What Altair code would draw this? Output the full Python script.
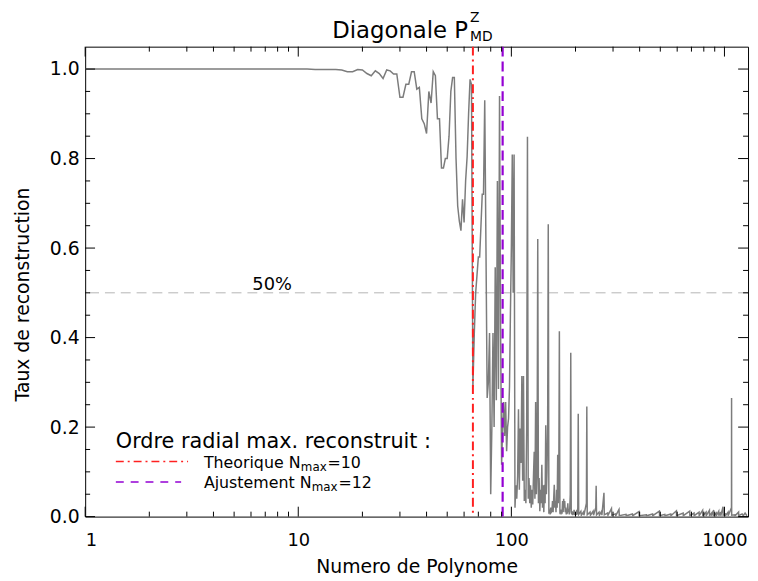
import altair as alt
import pandas as pd

# ---------------- data ----------------
poly_index = list(range(1, 206)) + [
    206, 207, 212, 213, 218, 219, 225, 226, 227, 234, 235, 242, 243, 249, 250, 251,
    258, 259, 265, 266, 272, 273, 283, 284, 295, 296, 308, 309, 320, 321, 345, 346,
    370, 371, 397, 398, 430, 431, 460, 461, 495, 496, 525, 526, 560, 561, 595, 596,
    640, 641, 687, 688, 720, 721, 760, 761, 790, 791, 820, 821, 850, 851, 870, 871,
    890, 891, 915, 916, 940, 941, 960, 961, 985, 986, 1010, 1011, 1040, 1041,
    1079, 1080, 1081, 1120, 1121, 1165, 1166, 1210, 1225, 1250, 1275]

taux = [
    # 1 - 16
    1.0, 1.0, 1.0, 1.0, 1.0, 1.0, 1.0, 1.0, 1.0, 1.0, 1.0, 0.999, 0.999, 0.999, 0.999, 0.998,
    # 17 - 30
    0.994, 0.994, 0.999, 0.998, 0.990, 0.985, 0.996, 0.990, 0.979, 0.998, 0.996, 0.989, 0.989, 0.937,
    # 31 - 45
    0.937, 0.966, 0.966, 0.994, 0.994, 0.955, 0.959, 0.889, 0.878, 0.856, 0.950, 0.924, 0.994, 0.985, 0.889,
    # 46 - 60
    0.889, 0.779, 0.779, 0.800, 0.800, 0.850, 0.950, 0.981, 0.981, 0.800, 0.694, 0.660, 0.639, 0.709, 0.657,
    # 61 - 75
    0.750, 0.804, 0.900, 0.977, 0.966, 0.290, 0.410, 0.500, 0.540, 0.580, 0.580, 0.650, 0.720, 0.720, 0.930,
    # 76 - 90
    0.600, 0.265, 0.300, 0.410, 0.050, 0.200, 0.410, 0.200, 0.557, 0.260, 0.750, 0.285, 0.940, 0.420, 0.116,
    # 91 - 105
    0.200, 0.256, 0.180, 0.256, 0.146, 0.200, 0.219, 0.290, 0.455, 0.600, 0.809, 0.500, 0.809, 0.020, 0.070,
    # 106 - 120
    0.040, 0.090, 0.240, 0.060, 0.197, 0.120, 0.314, 0.080, 0.314, 0.035, 0.060, 0.030, 0.200, 0.849, 0.040,
    # 121 - 135
    0.086, 0.030, 0.070, 0.020, 0.060, 0.027, 0.090, 0.145, 0.040, 0.256, 0.050, 0.100, 0.620, 0.030, 0.086,
    # 136 - 150
    0.012, 0.060, 0.030, 0.116, 0.020, 0.070, 0.010, 0.071, 0.030, 0.204, 0.050, 0.100, 0.200, 0.653, 0.010,
    # 151 - 165
    0.012, 0.005, 0.020, 0.010, 0.012, 0.035, 0.010, 0.040, 0.071, 0.020, 0.035, 0.010, 0.060, 0.020, 0.138,
    # 166 - 180
    0.030, 0.100, 0.414, 0.010, 0.012, 0.005, 0.012, 0.010, 0.035, 0.010, 0.040, 0.020, 0.035, 0.010, 0.020,
    # 181 - 195
    0.005, 0.012, 0.010, 0.030, 0.010, 0.015, 0.005, 0.020, 0.050, 0.366, 0.010, 0.005, 0.012, 0.003, 0.010,
    # 196 - 205
    0.005, 0.015, 0.004, 0.008, 0.003, 0.010, 0.004, 0.015, 0.005, 0.020,
    # sparse tail
    0.230, 0.005, 0.012, 0.003, 0.010, 0.003, 0.030, 0.246, 0.004, 0.010, 0.003, 0.012, 0.003, 0.020, 0.069, 0.004,
    0.010, 0.003, 0.012, 0.003, 0.053, 0.004, 0.008, 0.003, 0.018, 0.003, 0.006, 0.002, 0.016, 0.002, 0.005, 0.002,
    0.006, 0.002, 0.011, 0.002, 0.004, 0.002, 0.006, 0.002, 0.012, 0.002, 0.005, 0.002, 0.006, 0.002, 0.013, 0.002,
    0.008, 0.002, 0.012, 0.002, 0.008, 0.002, 0.010, 0.002, 0.014, 0.002, 0.010, 0.002, 0.014, 0.002, 0.008, 0.002,
    0.015, 0.002, 0.008, 0.002, 0.012, 0.002, 0.010, 0.002, 0.022, 0.003, 0.006, 0.002, 0.010, 0.002,
    0.020, 0.265, 0.003, 0.004, 0.002, 0.010, 0.002, 0.006, 0.002, 0.008, 0.002]

theorique_cut = [66]      # N_max = 10
ajustement_cut = [91]     # N_max = 12
seuil = [0.5]

x_major = [1, 10, 100, 1000]
x_minor = [2, 3, 4, 5, 6, 7, 8, 9, 20, 30, 40, 50, 60, 70, 80, 90,
           200, 300, 400, 500, 600, 700, 800, 900]
y_major = [0.0, 0.2, 0.4, 0.6, 0.8, 1.0]
y_minor = [0.05, 0.1, 0.15, 0.25, 0.3, 0.35, 0.45, 0.5, 0.55, 0.65, 0.7, 0.75,
           0.85, 0.9, 0.95]

# ---------------- chart ----------------
W, H = 670, 475
FONT = "DejaVu Sans"

df = pd.DataFrame({"n": poly_index, "taux": taux})
x_scale = alt.Scale(type="log", domain=[1, 1290], nice=False)
y_scale = alt.Scale(domain=[0, 1.05], nice=False, zero=False)

x_axis = alt.Axis(values=x_major, format="d", ticks=False, tickSize=0, grid=False,
                  domain=False, labelFontSize=18, labelFont=FONT, labelColor="black",
                  labelPadding=15, title="Numero de Polynome", titleFontSize=19,
                  titleFont=FONT, titleFontWeight="normal", titleColor="black",
                  titlePadding=9)
y_axis = alt.Axis(values=y_major, format=".1f", ticks=False, tickSize=0, grid=False,
                  domain=False, labelFontSize=19, labelFont=FONT, labelColor="black",
                  labelPadding=6, title="Taux de reconstruction", titleFontSize=19,
                  titleFont=FONT, titleFontWeight="normal", titleColor="black",
                  titlePadding=17, titleY=250)

line = alt.Chart(df).mark_line(color="#7c7c7c", strokeWidth=1.5, clip=True).encode(
    x=alt.X("n:Q", scale=x_scale, axis=x_axis),
    y=alt.Y("taux:Q", scale=y_scale, axis=y_axis),
)

half = alt.Chart(pd.DataFrame({"n": [1], "taux": seuil})).mark_rule(
    color="#b4b4b4", strokeWidth=1, strokeDash=[10, 6]).encode(
    y=alt.Y("taux:Q", scale=y_scale, axis=y_axis))

red = alt.Chart(pd.DataFrame({"n": theorique_cut})).mark_rule(
    color="#ff2020", strokeWidth=2, strokeDash=[9, 4, 2, 4]).encode(
    x=alt.X("n:Q", scale=x_scale, axis=x_axis))

purple = alt.Chart(pd.DataFrame({"n": ajustement_cut})).mark_rule(
    color="#9400d3", strokeWidth=2.2, strokeDash=[10, 5]).encode(
    x=alt.X("n:Q", scale=x_scale, axis=x_axis))


def xticks(vals, size, top):
    d = pd.DataFrame({"n": vals})
    if top:
        yy, yy2 = alt.value(0), alt.value(size)
    else:
        yy, yy2 = alt.value(H), alt.value(H - size)
    return alt.Chart(d).mark_rule(color="black", strokeWidth=1).encode(
        x=alt.X("n:Q", scale=x_scale, axis=x_axis), y=yy, y2=yy2)


def yticks(vals, size, right):
    d = pd.DataFrame({"taux": vals})
    if right:
        xx, xx2 = alt.value(W), alt.value(W - size)
    else:
        xx, xx2 = alt.value(0), alt.value(size)
    return alt.Chart(d).mark_rule(color="black", strokeWidth=1).encode(
        y=alt.Y("taux:Q", scale=y_scale, axis=y_axis), x=xx, x2=xx2)


ticks = [xticks(x_major, 10, False), xticks(x_minor, 5, False),
         xticks(x_major, 10, True), xticks(x_minor, 5, True),
         yticks(y_major, 10, False), yticks(y_minor, 5, False),
         yticks(y_major, 10, True), yticks(y_minor, 5, True)]


def label(txt, x, y, size, align="left", color="black"):
    return alt.Chart(pd.DataFrame({"k": [0]})).mark_text(
        text=txt, font=FONT, fontSize=size, align=align, baseline="alphabetic",
        color=color).encode(x=alt.value(x), y=alt.value(y))


def seg(x1, x2, y, color, dash, width):
    return alt.Chart(pd.DataFrame({"k": [0]})).mark_rule(
        color=color, strokeDash=dash, strokeWidth=width).encode(
        x=alt.value(x1), x2=alt.value(x2), y=alt.value(y))


texts = [
    label("Diagonale P", 387, -9, 23, align="right"),
    label("Z", 389, -25, 14),
    label("MD", 389, -6, 14),
    label("50%", 169, 246, 18),
    label("Ordre radial max. reconstruit :", 31, 406, 21),
    seg(31, 104, 419.3, "#ff2020", [8, 4, 2, 4], 1.6),
    label("Theorique N", 120, 426, 16),
    label("max", 218, 429, 12),
    label("=10", 245, 426, 16),
    seg(31, 97, 440, "#9400d3", [8, 7], 1.6),
    label("Ajustement N", 120, 446, 16),
    label("max", 229, 449, 12),
    label("=12", 256, 446, 16),
]

chart = alt.layer(half, line, red, purple, *ticks, *texts).properties(
    width=W, height=H,
    autosize=alt.AutoSizeParams(type="none"),
    padding={"left": 78, "top": 36, "right": 2, "bottom": 62},
).configure_view(stroke="black", strokeWidth=1)

chart.save("out.html", embed_options={"renderer": "svg", "actions": False})
